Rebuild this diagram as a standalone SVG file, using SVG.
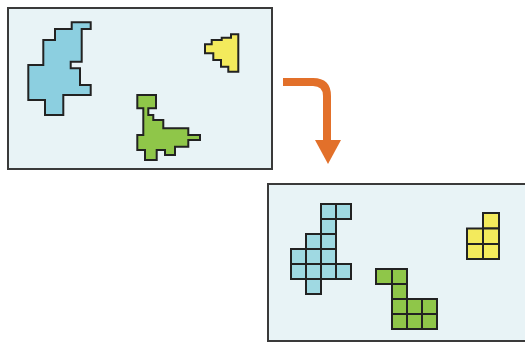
<svg xmlns="http://www.w3.org/2000/svg" width="525" height="344" viewBox="0 0 525 344">
<style>
.panel{fill:#e8f3f6;stroke:#3a3a3a;stroke-width:2}
.sh{stroke:#222;stroke-width:2;stroke-linejoin:miter}
.b{fill:#8ccfe0}
.g{fill:#8fc649}
.y{fill:#f3ea5c}
.cb{fill:#9fd9e2;stroke:#222;stroke-width:2}
.cg{fill:#8fc649;stroke:#222;stroke-width:2}
.cy{fill:#f3ea5c;stroke:#222;stroke-width:2}
</style>
<rect width="525" height="344" fill="#ffffff"/>
<g id="before">
<rect class="panel" x="8" y="8" width="264" height="161"/>
<polygon id="blue-blob" class="sh b" points="71.7,22.3 90.7,22.3 90.7,29 81.7,29 81.7,61.7 70.7,61.7 70.7,68.3 80,68.3 80,85 90.7,85 90.7,95 63.3,95 63.3,115 45,115 45,100 28.3,100 28.3,65 43.3,65 43.3,40 55,40 55,29 71.7,29"/>
<polygon id="green-blob" class="sh g" points="137.3,95 156,95 156,108.3 148.3,108.3 148.3,115 153.3,115 153.3,120 163.3,120 163.3,128.3 188.3,128.3 188.3,135 200,135 200,140 188.3,140 188.3,146.7 175,146.7 175,155 165,155 165,150 156.7,150 156.7,160 145,160 145,150 137.3,150 137.3,135 143.3,135 143.3,108.3 137.3,108.3"/>
<polygon id="yellow-blob" class="sh y" points="231,34.3 238.3,34.3 238.3,71.7 228.3,71.7 228.3,66.7 221,66.7 221,60 213.3,60 213.3,53.3 205,53.3 205,44.3 211.7,44.3 211.7,40 221.7,40 221.7,37.7 231,37.7"/>
</g>
<g id="connectors">
<path d="M283,82 H313 Q327,82 327,96 V142" fill="none" stroke="#e2702a" stroke-width="8"/>
<polygon points="315,140 341,140 328,164" fill="#e2702a"/>
</g>
<g id="after">
<rect class="panel" x="268" y="184" width="262" height="157"/>
<g id="blue-grid">
<rect class="cb" x="321" y="204" width="15" height="15"/>
<rect class="cb" x="336" y="204" width="15" height="15"/>
<rect class="cb" x="321" y="219" width="15" height="15"/>
<rect class="cb" x="306" y="234" width="15" height="15"/>
<rect class="cb" x="321" y="234" width="15" height="15"/>
<rect class="cb" x="291" y="249" width="15" height="15"/>
<rect class="cb" x="306" y="249" width="15" height="15"/>
<rect class="cb" x="321" y="249" width="15" height="15"/>
<rect class="cb" x="291" y="264" width="15" height="15"/>
<rect class="cb" x="306" y="264" width="15" height="15"/>
<rect class="cb" x="321" y="264" width="15" height="15"/>
<rect class="cb" x="336" y="264" width="15" height="15"/>
<rect class="cb" x="306" y="279" width="15" height="15"/>
</g>
<g id="green-grid">
<rect class="cg" x="376" y="269" width="16" height="15"/>
<rect class="cg" x="392" y="269" width="15" height="15"/>
<rect class="cg" x="392" y="284" width="15" height="15"/>
<rect class="cg" x="392" y="299" width="15" height="15"/>
<rect class="cg" x="407" y="299" width="15" height="15"/>
<rect class="cg" x="422" y="299" width="15" height="15"/>
<rect class="cg" x="392" y="314" width="15" height="15"/>
<rect class="cg" x="407" y="314" width="15" height="15"/>
<rect class="cg" x="422" y="314" width="15" height="15"/>
</g>
<g id="yellow-grid">
<rect class="cy" x="483" y="213" width="16" height="15.5"/>
<rect class="cy" x="467" y="228.5" width="16" height="15.5"/>
<rect class="cy" x="483" y="228.5" width="16" height="15.5"/>
<rect class="cy" x="467" y="244" width="16" height="15"/>
<rect class="cy" x="483" y="244" width="16" height="15"/>
</g>
</g>
</svg>
